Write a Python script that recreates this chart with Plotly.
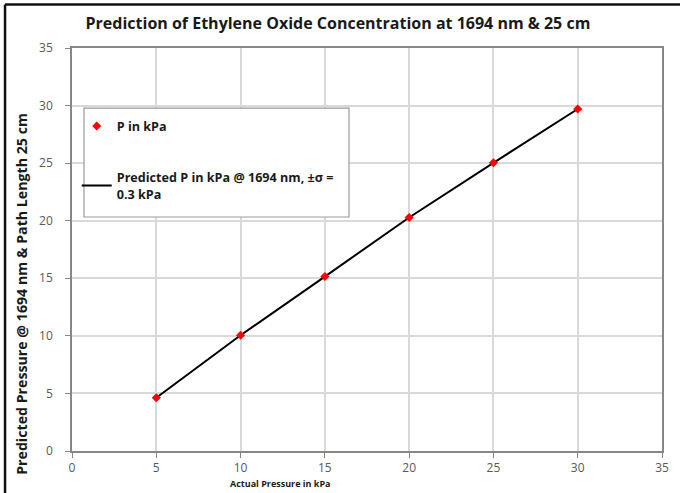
import plotly.graph_objects as go

actual = [5, 10, 15, 20, 25, 30]
measured = [4.63, 10.05, 15.15, 20.28, 25.03, 29.7]
predicted = [4.63, 10.05, 15.15, 20.28, 25.03, 29.7]
ticks = [0, 5, 10, 15, 20, 25, 30, 35]

FONT = "Open Sans"

fig = go.Figure()
fig.add_trace(go.Scatter(
    x=actual, y=predicted, mode="lines",
    name="<b>Predicted P in kPa @ 1694 nm, ±σ =<br>0.3 kPa</b>",
    line=dict(color="#000000", width=2),
    legendgroup="b", legendrank=2,
))
fig.add_trace(go.Scatter(
    x=actual, y=measured, mode="markers", name="<b>P in kPa</b>",
    marker=dict(symbol="diamond", size=7, color="#ff0000"),
    legendgroup="a", legendrank=1,
))

axis_common = dict(
    range=[0, 35], tickvals=ticks, showgrid=True, gridcolor="#d9d9d9", gridwidth=1.5,
    showline=True, linecolor="#868686", linewidth=1.5, mirror=True,
    ticks="outside", ticklen=5, tickcolor="#868686", zeroline=False,
    tickfont=dict(family=FONT, size=12, color="#595959"),
)

fig.update_layout(
    width=680, height=493,
    margin=dict(l=72, r=18, t=48, b=42),
    paper_bgcolor="white", plot_bgcolor="white",
    title=dict(text="<b>Prediction of Ethylene Oxide Concentration at 1694 nm &amp; 25 cm</b>",
               x=0.497, xanchor="center", y=0.953, yanchor="middle",
               font=dict(family=FONT, size=16, color="#1a1a1a")),
    showlegend=True,
    legend=dict(x=0.008, y=0.843, xanchor="left", yanchor="top",
                bgcolor="rgba(0,0,0,0)", borderwidth=0,
                traceorder="grouped", tracegroupgap=32,
                font=dict(family=FONT, size=12.6, color="#1a1a1a"),
                itemwidth=30),
    xaxis=dict(axis_common),
    yaxis=dict(axis_common, ticklabelstandoff=10),
)

# legend box
fig.add_shape(type="rect", xref="paper", yref="paper",
              x0=0.0203, x1=0.4695, y0=0.5806, y1=0.851,
              line=dict(color="#9a9a9a", width=1.2), fillcolor="white", layer="above")
# outer frame (top and left edges)
fig.add_shape(type="line", xref="paper", yref="paper",
              x0=-0.1135, x1=1.1, y0=1.108, y1=1.108,
              line=dict(color="#111111", width=2.5))
fig.add_shape(type="line", xref="paper", yref="paper",
              x0=-0.1135, x1=-0.1135, y0=-0.2, y1=1.108,
              line=dict(color="#111111", width=2.5))

fig.add_annotation(text="<b>Predicted Pressure @ 1694 nm &amp; Path Length 25 cm</b>",
                   xref="paper", yref="paper", x=-0.0847, y=0.39, textangle=-90,
                   xanchor="center", yanchor="middle", showarrow=False,
                   font=dict(family=FONT, size=14.2, color="#1a1a1a"))
fig.add_annotation(text="<b>Actual Pressure in kPa</b>", xref="paper", yref="paper",
                   x=0.354, y=-0.081, xanchor="center", yanchor="middle", showarrow=False,
                   font=dict(family=FONT, size=9, color="#1a1a1a"))

fig.write_html("out.html", config={"displayModeBar": False},
               post_script="document.body.style.margin='0';")
